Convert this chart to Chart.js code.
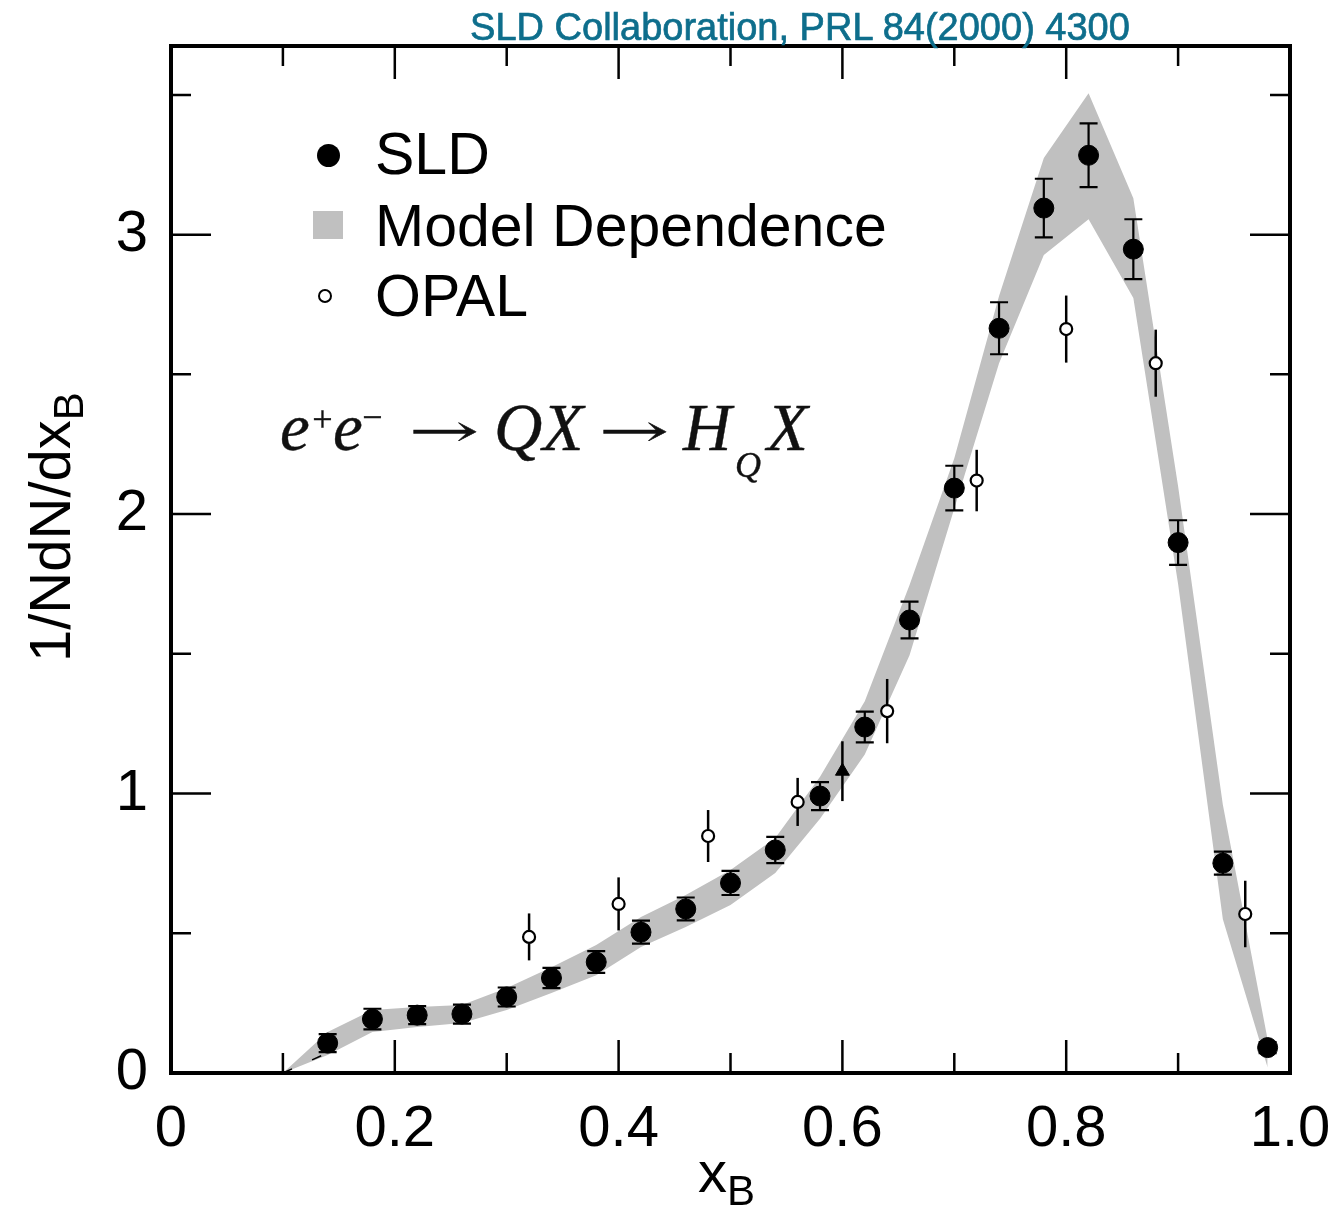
<!DOCTYPE html>
<html>
<head>
<meta charset="utf-8">
<script src="https://cdn.jsdelivr.net/npm/chart.js@4.4.1/dist/chart.umd.min.js"></script>
<style>
  html, body { margin: 0; padding: 0; background: #fff; }
  #wrap { position: relative; width: 1337px; height: 1207px; font-family: 'Liberation Sans', Arial, sans-serif; }
  #wrap canvas { position: absolute; left: 0; top: 0; }
  .lbl { position: absolute; white-space: nowrap; color: #000; }
  #header { left: 800px; top: 8px; font-size: 38px; line-height: 38px; color: #0e6e8c; transform: translateX(-50%); -webkit-text-stroke: 0.7px #0e6e8c; }
  .legtxt { font-size: 59px; line-height: 58px; left: 375px; }
  .mk { position: absolute; box-sizing: border-box; }
  .eq { position: absolute; top: 394px; font-family: 'Liberation Serif', 'Times New Roman', serif; font-size: 67px; line-height: 66px; color: #111; font-style: italic; white-space: nowrap; -webkit-text-stroke: 0.4px #111; }
  .eq.small { font-size: 36px; }
  .eq.arr { font-style: normal; font-family: 'DejaVu Serif', serif; font-size: 44px; width: 72px; text-align: center; transform: scaleX(1.9); transform-origin: center; top: 398px; }
  .axt { font-size: 58px; line-height: 58px; }
  .axt .sub { position: relative; top: 13px; font-size: 42px; }
  #ytitle { left: 21px; top: 662px; transform: rotate(-90deg); transform-origin: left top; }
  #xtitle { left: 698px; top: 1143px; }
</style>
</head>
<body>
<div id="wrap">
  <canvas id="myChart" width="1337" height="1207"></canvas>
  <div id="header" class="lbl">SLD Collaboration, PRL 84(2000) 4300</div>

  <div class="mk" style="left:317px; top:144px; width:23px; height:23px; border-radius:50%; background:#000;"></div>
  <div class="lbl legtxt" style="top:125px;">SLD</div>
  <div class="mk" style="left:313px; top:211px; width:30px; height:28px; background:#c0c0c0;"></div>
  <div class="lbl legtxt" style="top:197px;">Model Dependence</div>
  <div class="mk" style="left:318px; top:289px; width:14px; height:14px; border-radius:50%; border:2px solid #000; background:#fff;"></div>
  <div class="lbl legtxt" style="top:267px;">OPAL</div>

  <span class="eq" style="left:280px;">e</span>
  <span class="eq small" style="left:310px; top:386px;">+</span>
  <span class="eq" style="left:333px;">e</span>
  <span class="eq small" style="left:360px; top:384px;">&minus;</span>
  <span class="eq arr" style="left:408px;">&rarr;</span>
  <span class="eq" style="left:494px;">QX</span>
  <span class="eq arr" style="left:598px;">&rarr;</span>
  <span class="eq" style="left:683px;">H</span>
  <span class="eq small" style="left:735px; top:432px;">Q</span>
  <span class="eq" style="left:767px;">X</span>

  <div id="ytitle" class="lbl axt">1/NdN/dx<span class="sub">B</span></div>
  <div id="xtitle" class="lbl axt">x<span class="sub">B</span></div>
</div>
<script>
/*** Data ***/
// SLD measurement
const sldX = [0.14, 0.18, 0.22, 0.26, 0.30, 0.34, 0.38, 0.42, 0.46, 0.50, 0.54,
              0.58, 0.62, 0.66, 0.70, 0.74, 0.78, 0.82, 0.86, 0.90, 0.94, 0.98];
const sldY = [0.107, 0.193, 0.207, 0.211, 0.272, 0.340, 0.397, 0.504, 0.587, 0.680, 0.798,
              0.991, 1.238, 1.621, 2.093, 2.665, 3.095, 3.284, 2.948, 1.898, 0.751, 0.091];
const sldErr = [0.032, 0.037, 0.032, 0.034, 0.034, 0.036, 0.039, 0.041, 0.041, 0.043, 0.047,
                0.050, 0.055, 0.066, 0.080, 0.093, 0.105, 0.114, 0.107, 0.080, 0.041, 0.020];

// OPAL measurement
const opalX = [0.32, 0.40, 0.48, 0.56, 0.64, 0.72, 0.80, 0.88, 0.96];
const opalY = [0.487, 0.605, 0.848, 0.970, 1.295, 2.120, 2.662, 2.540, 0.569];
const opalErr = [0.084, 0.095, 0.093, 0.086, 0.115, 0.110, 0.120, 0.120, 0.119];

// extra point (triangle)
const triX = [0.60];
const triY = [1.08];
const triErr = [0.107];

// model dependence band
const bandX = [0.10, 0.14, 0.18, 0.22, 0.26, 0.30, 0.34, 0.38, 0.42, 0.46, 0.50, 0.54,
               0.58, 0.62, 0.66, 0.70, 0.74, 0.78, 0.82, 0.86, 0.90, 0.94, 0.98];
const bandHigh = [0, 0.147, 0.225, 0.236, 0.243, 0.304, 0.378, 0.458, 0.558, 0.637, 0.726, 0.841,
                  1.06, 1.33, 1.746, 2.20, 2.78, 3.274, 3.506, 3.13, 2.10, 0.96, 0.12];
const bandLow = [0, 0.064, 0.147, 0.165, 0.179, 0.225, 0.286, 0.350, 0.451, 0.522, 0.601, 0.716,
                 0.91, 1.14, 1.495, 2.02, 2.54, 2.927, 3.055, 2.773, 1.75, 0.55, 0.02];

// short dashed line at the low end
const dashX = [0.10, 0.14];
const dashY = [0, 0.072];

// axes
const xTickVals = [0, 0.2, 0.4, 0.6, 0.8, 1.0];
const xTickLabels = ['0', '0.2', '0.4', '0.6', '0.8', '1.0'];
const yTickVals = [0, 1, 2, 3];
const yTickLabels = ['0', '1', '2', '3'];
const xTickMarks = [0.1, 0.2, 0.3, 0.4, 0.5, 0.6, 0.7, 0.8, 0.9];
const yTickMarks = [0.5, 1, 1.5, 2, 2.5, 3, 3.5];
const xMax = 1.0;
const yMax = 3.675;

/*** Helpers ***/
function toPoints(xs, ys) {
    return xs.map((x, i) => ({ x: x, y: ys[i] }));
}

// error bars drawn just before the markers of their dataset
const errorBarPlugin = {
    id: 'errorBars',
    beforeDatasetDraw(chart, args) {
        const ds = chart.data.datasets[args.index];
        if (!ds.errors) return;
        const ctx = chart.ctx;
        const xs = chart.scales.x, ys = chart.scales.y;
        ctx.save();
        ctx.strokeStyle = '#000';
        ctx.lineWidth = ds.errWidth;
        ds.data.forEach((p, i) => {
            const px = xs.getPixelForValue(p.x);
            const top = ys.getPixelForValue(p.y + ds.errors[i]);
            const bot = ys.getPixelForValue(p.y - ds.errors[i]);
            ctx.beginPath();
            ctx.moveTo(px, top);
            ctx.lineTo(px, bot);
            if (ds.capWidth) {
                ctx.moveTo(px - ds.capWidth / 2, top);
                ctx.lineTo(px + ds.capWidth / 2, top);
                ctx.moveTo(px - ds.capWidth / 2, bot);
                ctx.lineTo(px + ds.capWidth / 2, bot);
            }
            ctx.stroke();
        });
        ctx.restore();
    }
};

// box frame with inward ticks on all four sides
const framePlugin = {
    id: 'frame',
    afterDraw(chart) {
        const ctx = chart.ctx;
        const a = chart.chartArea;
        const xs = chart.scales.x, ys = chart.scales.y;
        ctx.save();
        ctx.strokeStyle = '#000';
        ctx.lineWidth = 2.5;
        ctx.beginPath();
        xTickMarks.forEach(v => {
            const px = xs.getPixelForValue(v);
            const len = xTickVals.some(t => Math.abs(t - v) < 1e-6) ? 33 : 20;
            ctx.moveTo(px, a.bottom);
            ctx.lineTo(px, a.bottom - len);
            ctx.moveTo(px, a.top);
            ctx.lineTo(px, a.top + len);
        });
        yTickMarks.forEach(v => {
            const py = ys.getPixelForValue(v);
            const len = yTickVals.some(t => Math.abs(t - v) < 1e-6) ? 40 : 20;
            ctx.moveTo(a.left, py);
            ctx.lineTo(a.left + len, py);
            ctx.moveTo(a.right, py);
            ctx.lineTo(a.right - len, py);
        });
        ctx.stroke();
        ctx.lineWidth = 4;
        ctx.strokeRect(a.left, a.top, a.right - a.left, a.bottom - a.top);
        ctx.restore();
    }
};

/*** Chart ***/
function renderChart() {
    Chart.defaults.font.family = "'Liberation Sans', Arial, sans-serif";
    Chart.defaults.color = '#000';

    const datasets = [
        {
            label: 'SLD',
            data: toPoints(sldX, sldY),
            errors: sldErr,
            errWidth: 2.2,
            capWidth: 18,
            pointStyle: 'circle',
            pointRadius: 10,
            pointBackgroundColor: '#000',
            pointBorderColor: '#000',
            pointBorderWidth: 1,
            showLine: false,
            order: 1
        },
        {
            label: 'OPAL',
            data: toPoints(opalX, opalY),
            errors: opalErr,
            errWidth: 2.5,
            capWidth: 0,
            pointStyle: 'circle',
            pointRadius: 6,
            pointBackgroundColor: '#fff',
            pointBorderColor: '#000',
            pointBorderWidth: 2.2,
            showLine: false,
            order: 2
        },
        {
            label: 'other',
            data: toPoints(triX, triY),
            errors: triErr,
            errWidth: 2.5,
            capWidth: 0,
            pointStyle: 'triangle',
            pointRadius: 8,
            pointBackgroundColor: '#000',
            pointBorderColor: '#000',
            pointBorderWidth: 1,
            showLine: false,
            order: 2
        },
        {
            label: 'Model Dependence',
            data: toPoints(bandX, bandHigh),
            showLine: true,
            borderColor: 'rgba(0,0,0,0)',
            borderWidth: 0,
            backgroundColor: '#c0c0c0',
            fill: '+1',
            pointRadius: 0,
            tension: 0,
            order: 5
        },
        {
            label: 'band low',
            data: toPoints(bandX, bandLow),
            showLine: true,
            borderColor: 'rgba(0,0,0,0)',
            borderWidth: 0,
            fill: false,
            pointRadius: 0,
            tension: 0,
            order: 6
        },
        {
            label: 'dash',
            data: toPoints(dashX, dashY),
            showLine: true,
            borderColor: '#000',
            borderWidth: 1.5,
            borderDash: [10, 22],
            fill: false,
            pointRadius: 0,
            order: 4
        }
    ];

    const ctx = document.getElementById('myChart').getContext('2d');
    window.myChart = new Chart(ctx, {
        type: 'scatter',
        data: { datasets: datasets },
        options: {
            responsive: false,
            animation: false,
            devicePixelRatio: 1,
            layout: { padding: { left: 0, top: 46, right: 47, bottom: 0 } },
            plugins: {
                legend: { display: false },
                tooltip: { enabled: false }
            },
            scales: {
                x: {
                    type: 'linear',
                    min: 0,
                    max: xMax,
                    afterBuildTicks: s => { s.ticks = xTickVals.map(v => ({ value: v })); },
                    afterFit: s => { s.height = 134; },
                    ticks: {
                        callback: (v, i) => xTickLabels[i],
                        font: { size: 58 },
                        color: '#000',
                        padding: 0,
                        maxRotation: 0,
                        autoSkip: false
                    },
                    grid: { display: false, drawTicks: true, tickLength: 22 },
                    border: { display: false }
                },
                y: {
                    type: 'linear',
                    min: 0,
                    max: yMax,
                    afterBuildTicks: s => { s.ticks = yTickVals.map(v => ({ value: v })); },
                    afterFit: s => { s.width = 171; },
                    ticks: {
                        callback: (v, i) => yTickLabels[i],
                        font: { size: 58 },
                        color: '#000',
                        padding: 0,
                        autoSkip: false
                    },
                    grid: { display: false, drawTicks: true, tickLength: 23 },
                    border: { display: false }
                }
            }
        },
        plugins: [errorBarPlugin, framePlugin]
    });
}

renderChart();
</script>
</body>
</html>
